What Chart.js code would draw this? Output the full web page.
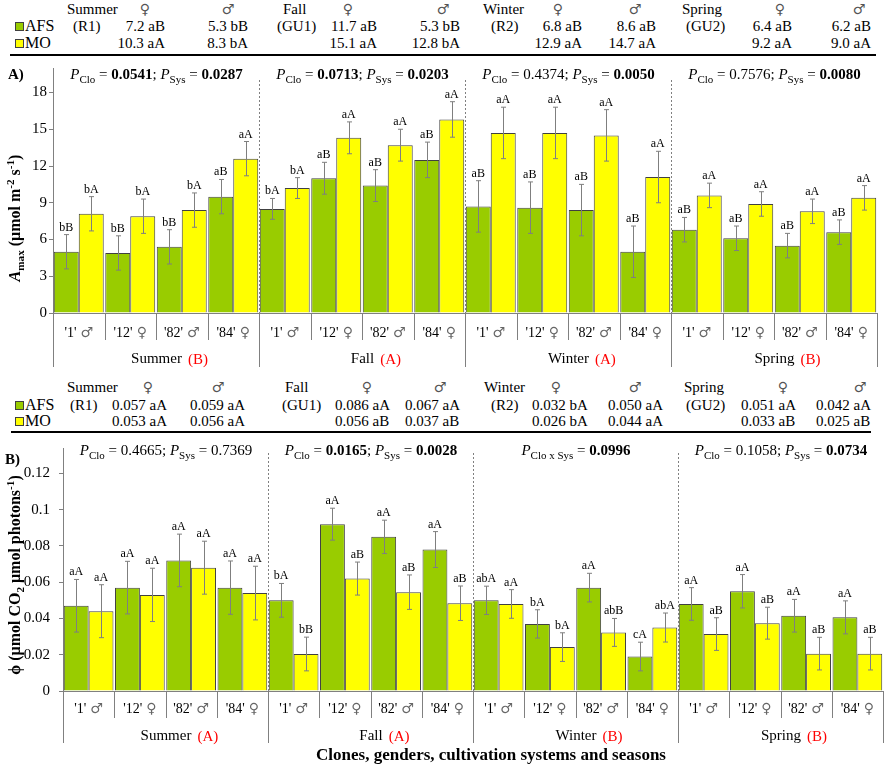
<!DOCTYPE html>
<html>
<head>
<meta charset="utf-8">
<script src="https://cdn.jsdelivr.net/npm/chart.js@4.4.0/dist/chart.umd.min.js"></script>
<style>
  body { margin: 0; background: #fff; }
  #fig { position: relative; width: 886px; height: 766px; font-family: "Liberation Serif", serif; color: #000; overflow: hidden; }
  #fig canvas { position: absolute; left: 0; }
  .cell { position: absolute; font-size: 15px; line-height: 18px; white-space: nowrap; }
  .sym { font-family: "DejaVu Sans", sans-serif; font-size: 14px; color: #555; }
  .sw { position: absolute; width: 7px; height: 7px; border: 1px solid #404040; }
  .rule { position: absolute; height: 2px; background: #000; }
  .ytitle { position: absolute; font-weight: bold; font-size: 16px; white-space: nowrap; transform: translate(-50%, -50%) rotate(-90deg); }
  .ytitle sub, .ytitle sup { font-size: 70%; line-height: 0; }
  .panel { position: absolute; font-weight: bold; font-size: 15px; }
  #xtitle { position: absolute; left: 491px; top: 745px; transform: translateX(-50%); font-weight: bold; font-size: 17px; white-space: nowrap; }
</style>
</head>
<body>
<div id="fig">
  <canvas id="chartA" width="886" height="316" style="top:56px"></canvas>
  <canvas id="chartB" width="886" height="336" style="top:430px"></canvas>
  <div id="tables"></div>
  <div class="ytitle" style="left:15px;top:218px"><i>A</i><sub>max</sub> (μmol m<sup>-2</sup> s<sup>-1</sup>)</div>
  <div class="ytitle" style="left:15px;top:575px">ϕ (μmol CO<sub>2</sub> μmol photons<sup>-1</sup>)</div>
  <div class="panel" style="left:8px;top:66px">A)</div>
  <div class="panel" style="left:5px;top:451px">B)</div>
  <div id="xtitle">Clones, genders, cultivation systems and seasons</div>
</div>
<script>
var seasons = ['Summer', 'Fall', 'Winter', 'Spring'];
var stages = ['(R1)', '(GU1)', '(R2)', '(GU2)'];
var clones = ["'1' ♂", "'12' ♀", "'82' ♂", "'84' ♀"];
var categories = [].concat(clones, clones, clones, clones);

// A) Amax
var amaxAFS = [5.0, 4.9, 5.4, 9.5, 8.5, 11.0, 10.4, 12.5, 8.7, 8.6, 8.4, 5.0, 6.8, 6.1, 5.5, 6.6];
var amaxAFSErr = [1.4, 1.4, 1.4, 1.4, 0.85, 1.3, 1.3, 1.45, 2.1, 2.1, 2.1, 2.1, 1.0, 1.0, 1.0, 1.0];
var amaxMO = [8.1, 7.9, 8.4, 12.6, 10.2, 14.3, 13.7, 15.8, 14.7, 14.7, 14.5, 11.1, 9.6, 8.9, 8.3, 9.4];
var amaxMOErr = [1.4, 1.4, 1.4, 1.4, 0.85, 1.3, 1.3, 1.45, 2.1, 2.1, 2.1, 2.1, 1.0, 1.0, 1.0, 1.0];
var amaxAFSLetters = ['bB', 'bB', 'bB', 'aB', 'bA', 'aB', 'aB', 'aB', 'aB', 'aB', 'aB', 'aB', 'aB', 'aB', 'aB', 'aB'];
var amaxMOLetters = ['bA', 'bA', 'bA', 'aA', 'bA', 'aA', 'aA', 'aA', 'aA', 'aA', 'aA', 'aA', 'aA', 'aA', 'aA', 'aA'];
var amaxSeasonLetters = ['B', 'A', 'A', 'B'];
var amaxPClo = ['0.0541', '0.0713', '0.4374', '0.7576'];
var amaxPSys = ['0.0287', '0.0203', '0.0050', '0.0080'];
var amaxPInter = [null, null, null, null];
var amaxTableAFS = ['7.2 aB', '5.3 bB', '11.7 aB', '5.3 bB', '6.8 aB', '8.6 aB', '6.4 aB', '6.2 aB'];
var amaxTableMO = ['10.3 aA', '8.3 bA', '15.1 aA', '12.8 bA', '12.9 aA', '14.7 aA', '9.2 aA', '9.0 aA'];

// B) phi
var phiAFS = [0.047, 0.057, 0.072, 0.057, 0.050, 0.092, 0.085, 0.078, 0.050, 0.037, 0.057, 0.019, 0.048, 0.055, 0.0415, 0.0406];
var phiAFSErr = [0.0145, 0.0145, 0.0145, 0.0147, 0.0093, 0.0088, 0.0092, 0.0099, 0.0078, 0.0078, 0.0079, 0.0079, 0.009, 0.0092, 0.009, 0.0091];
var phiMO = [0.044, 0.053, 0.068, 0.054, 0.0204, 0.062, 0.0545, 0.0484, 0.048, 0.0242, 0.0323, 0.035, 0.0314, 0.0374, 0.0206, 0.0206];
var phiMOErr = [0.0146, 0.0147, 0.0146, 0.0148, 0.0093, 0.0091, 0.0095, 0.0095, 0.0079, 0.0079, 0.0077, 0.008, 0.009, 0.0088, 0.009, 0.009];
var phiAFSLetters = ['aA', 'aA', 'aA', 'aA', 'bA', 'aA', 'aA', 'aA', 'abA', 'bA', 'aA', 'cA', 'aA', 'aA', 'aA', 'aA'];
var phiMOLetters = ['aA', 'aA', 'aA', 'aA', 'bB', 'aB', 'aB', 'aB', 'aA', 'bA', 'abB', 'abA', 'aB', 'aB', 'aB', 'aB'];
var phiSeasonLetters = ['A', 'A', 'B', 'B'];
var phiPClo = ['0.4665', '0.0165', null, '0.1058'];
var phiPSys = ['0.7369', '0.0028', null, '0.0734'];
var phiPInter = [null, null, '0.0996', null];
var phiTableAFS = ['0.057 aA', '0.059 aA', '0.086 aA', '0.067 aA', '0.032 bA', '0.050 aA', '0.051 aA', '0.042 aA'];
var phiTableMO = ['0.053 aA', '0.056 aA', '0.056 aB', '0.037 aB', '0.026 bA', '0.044 aA', '0.033 aB', '0.025 aB'];

var GREEN = '#99cc00';
var YELLOW = '#ffff00';

var tables = (function () {
  'use strict';

  var root = document.getElementById('tables');

  function put (html, x, y, align, cls) {
    var el = document.createElement('div');
    el.className = 'cell' + (cls ? ' ' + cls : '');
    el.innerHTML = html;
    el.style.top = (y - 9) + 'px';
    if (align === 'right') {
      el.style.right = (886 - x) + 'px';
    } else if (align === 'center') {
      el.style.left = x + 'px';
      el.style.transform = 'translateX(-50%)';
    } else {
      el.style.left = x + 'px';
    }
    root.appendChild(el);
  }

  function swatch (x, y, color) {
    var el = document.createElement('div');
    el.className = 'sw';
    el.style.left = x + 'px';
    el.style.top = (y - 4) + 'px';
    el.style.background = color;
    root.appendChild(el);
  }

  function rule (x1, x2, y) {
    var el = document.createElement('div');
    el.className = 'rule';
    el.style.left = x1 + 'px';
    el.style.width = (x2 - x1) + 'px';
    el.style.top = (y - 1) + 'px';
    root.appendChild(el);
  }

  function build (t, afs, mo) {
    swatch(15, t.rows[1], GREEN);
    swatch(15, t.rows[2], YELLOW);
    put('<span style="font-size:16px">AFS</span>', 25, t.rows[1]);
    put('<span style="font-size:16px">MO</span>', 25, t.rows[2]);
    for (var s = 0; s < 4; s++) {
      put(seasons[s], t.name[s], t.rows[0]);
      put(stages[s], t.stage[s], t.rows[1]);
      put('♀', t.fem[s], t.rows[0], 'center', 'sym');
      put('♂', t.male[s], t.rows[0], 'center', 'sym');
      put(afs[2 * s], t.femVal[s], t.rows[1], t.align);
      put(afs[2 * s + 1], t.maleVal[s], t.rows[1], t.align);
      put(mo[2 * s], t.femVal[s], t.rows[2], t.align);
      put(mo[2 * s + 1], t.maleVal[s], t.rows[2], t.align);
    }
    rule(t.rule[0], t.rule[1], t.rule[2]);
  }

  function init () {
    build({
      rows: [9, 26, 43],
      name: [67, 283, 483, 682],
      stage: [73, 277, 491, 686],
      fem: [145, 348, 558, 780],
      male: [228, 443, 635, 859],
      femVal: [165, 377, 582, 792],
      maleVal: [248, 460, 656, 871],
      align: 'right',
      rule: [10, 876, 55]
    }, amaxTableAFS, amaxTableMO);
    build({
      rows: [387, 405, 421],
      name: [67, 285, 484, 684],
      stage: [70, 282, 491, 686],
      fem: [148, 367, 556, 783],
      male: [218, 440, 635, 860],
      femVal: [112, 335, 532, 741],
      maleVal: [190, 405, 608, 816],
      align: 'left',
      rule: [11, 871, 432]
    }, phiTableAFS, phiTableMO);
  }

  return {
    init: init
  };
}());

var charts = (function () {
  'use strict';

  var SERIF = '"Liberation Serif", serif';
  var SYMFONT = '"DejaVu Sans", sans-serif';

  function fontOf (s, size) {
    var sz = s.sub ? 11 : size;
    return (s.i ? 'italic ' : '') + (s.b ? 'bold ' : '') + sz + 'px ' + SERIF;
  }

  function drawRich (ctx, segs, cx, y, size) {
    var w = 0;
    segs.forEach(function (s) {
      ctx.font = fontOf(s, size);
      s.w = ctx.measureText(s.t).width;
      w += s.w;
    });
    var x = cx - w / 2;
    ctx.textAlign = 'left';
    ctx.textBaseline = 'alphabetic';
    segs.forEach(function (s) {
      ctx.font = fontOf(s, size);
      ctx.fillStyle = s.c || '#000';
      ctx.fillText(s.t, x, y + (s.sub ? 4 : 0));
      x += s.w;
    });
  }

  function pSegs (name, value) {
    return [{ t: 'P', i: 1 }, { t: name, sub: 1 }, { t: ' = ' }, { t: value, b: parseFloat(value) < 0.1 }];
  }

  // clone name in serif, gender sign in a font that has a full-size glyph
  function drawCategory (ctx, label, cx, y) {
    var parts = label.split(' ');
    ctx.font = '14px ' + SERIF;
    var w1 = ctx.measureText(parts[0]).width;
    ctx.font = '14px ' + SYMFONT;
    var w2 = ctx.measureText(parts[1]).width;
    var x = cx - (w1 + 4 + w2) / 2;
    ctx.textAlign = 'left';
    ctx.textBaseline = 'middle';
    ctx.font = '14px ' + SERIF;
    ctx.fillStyle = '#000';
    ctx.fillText(parts[0], x, y);
    ctx.font = '14px ' + SYMFONT;
    ctx.fillStyle = '#666';
    ctx.fillText(parts[1], x + w1 + 4, y);
  }

  var extras = {
    id: 'extras',
    afterDatasetsDraw: function (chart) {
      var ctx = chart.ctx;
      var y = chart.scales.y;
      ctx.save();
      chart.data.datasets.forEach(function (ds, d) {
        chart.getDatasetMeta(d).data.forEach(function (bar, i) {
          var x = Math.round(bar.x) + 0.5;
          var hi = y.getPixelForValue(ds.data[i] + ds.errors[i]);
          var lo = y.getPixelForValue(ds.data[i] - ds.errors[i]);
          ctx.strokeStyle = '#7f7f7f';
          ctx.lineWidth = 1;
          ctx.beginPath();
          ctx.moveTo(x, hi);
          ctx.lineTo(x, lo);
          ctx.moveTo(x - 2.5, hi);
          ctx.lineTo(x + 2.5, hi);
          ctx.moveTo(x - 2.5, lo);
          ctx.lineTo(x + 2.5, lo);
          ctx.stroke();
          ctx.fillStyle = '#000';
          ctx.font = '12px ' + SERIF;
          ctx.textAlign = 'center';
          ctx.textBaseline = 'alphabetic';
          ctx.fillText(ds.letters[i], bar.x, hi - 4);
        });
      });
      ctx.restore();
    },
    afterDraw: function (chart, args, opts) {
      var ctx = chart.ctx;
      var xs = chart.scales.x;
      var area = chart.chartArea;
      var labels = chart.data.labels;
      var n = labels.length;
      var half = (xs.getPixelForValue(1) - xs.getPixelForValue(0)) / 2;
      function edge (i) {
        return Math.round(xs.getPixelForValue(i) - half) + 0.5;
      }
      ctx.save();
      ctx.strokeStyle = '#808080';
      ctx.lineWidth = 1;
      ctx.beginPath();
      for (var i = 0; i <= n; i++) {
        ctx.moveTo(edge(i), area.bottom);
        ctx.lineTo(edge(i), area.bottom + (i % 4 === 0 ? opts.longTick : opts.shortTick));
      }
      ctx.stroke();
      for (var c = 0; c < n; c++) {
        drawCategory(ctx, labels[c], xs.getPixelForValue(c), area.bottom + opts.labelY);
      }
      // dotted season dividers
      ctx.setLineDash([2, 2]);
      ctx.beginPath();
      for (var k = 4; k < n; k += 4) {
        ctx.moveTo(edge(k), area.top + opts.dotTop);
        ctx.lineTo(edge(k), area.bottom);
      }
      ctx.stroke();
      ctx.setLineDash([]);
      for (var s = 0; s < 4; s++) {
        var cx = (edge(4 * s) + edge(4 * s + 4)) / 2;
        ctx.font = '15px ' + SERIF;
        ctx.fillStyle = '#000';
        ctx.textAlign = 'center';
        ctx.textBaseline = 'middle';
        ctx.fillText(seasons[s], cx, area.bottom + opts.seasonY);
        var w = ctx.measureText(seasons[s]).width;
        ctx.fillStyle = '#ff0000';
        ctx.textAlign = 'left';
        ctx.fillText('(' + opts.seasonLetters[s] + ')', cx + w / 2 + 6, area.bottom + opts.seasonY + 1);
        var segs = opts.pInter[s] ? pSegs('Clo x Sys', opts.pInter[s])
          : pSegs('Clo', opts.pClo[s]).concat([{ t: '; ' }], pSegs('Sys', opts.pSys[s]));
        drawRich(ctx, segs, cx, area.top + opts.pY, 15);
      }
      ctx.restore();
    }
  };

  function make (id, cfg) {
    return new Chart(document.getElementById(id), {
      type: 'bar',
      data: {
        labels: categories,
        datasets: [{
          label: 'AFS',
          data: cfg.afs,
          errors: cfg.afsErr,
          letters: cfg.afsLetters,
          backgroundColor: GREEN,
          borderColor: '#404040',
          borderWidth: 1,
          categoryPercentage: 0.97,
          barPercentage: 1
        }, {
          label: 'MO',
          data: cfg.mo,
          errors: cfg.moErr,
          letters: cfg.moLetters,
          backgroundColor: YELLOW,
          borderColor: '#404040',
          borderWidth: 1,
          categoryPercentage: 0.97,
          barPercentage: 1
        }]
      },
      options: {
        responsive: false,
        animation: false,
        layout: { padding: cfg.padding },
        plugins: {
          legend: { display: false },
          tooltip: { enabled: false },
          extras: cfg.extras
        },
        scales: {
          x: {
            grid: { display: false, drawTicks: false },
            border: { color: '#808080' },
            ticks: { display: false },
            afterFit: function (axis) { axis.height = cfg.xHeight; }
          },
          y: {
            min: 0,
            max: cfg.max,
            grid: { drawOnChartArea: false, drawTicks: true, tickLength: 4, color: '#808080' },
            border: { color: '#808080' },
            ticks: {
              stepSize: cfg.step,
              includeBounds: false,
              color: '#000',
              padding: cfg.yPad,
              font: { family: SERIF, size: 15 },
              callback: function (v) { return String(+v.toFixed(2)); }
            },
            afterFit: function (axis) { axis.width = cfg.yWidth; }
          }
        }
      },
      plugins: [extras]
    });
  }

  function init () {
    make('chartA', {
      afs: amaxAFS, afsErr: amaxAFSErr, afsLetters: amaxAFSLetters,
      mo: amaxMO, moErr: amaxMOErr, moLetters: amaxMOLetters,
      max: 20, step: 3,
      padding: { top: 12, right: 9, left: 0, bottom: 0 },
      xHeight: 59, yWidth: 53, yPad: 2,
      extras: {
        longTick: 54, shortTick: 27, labelY: 20, seasonY: 46, dotTop: 12, pY: 11,
        seasonLetters: amaxSeasonLetters, pClo: amaxPClo, pSys: amaxPSys, pInter: amaxPInter
      }
    });
    make('chartB', {
      afs: phiAFS, afsErr: phiAFSErr, afsLetters: phiAFSLetters,
      mo: phiMO, moErr: phiMOErr, moLetters: phiMOLetters,
      max: 0.134, step: 0.02,
      padding: { top: 17, right: 3, left: 0, bottom: 0 },
      xHeight: 75, yWidth: 63, yPad: 9,
      extras: {
        longTick: 52, shortTick: 27, labelY: 18, seasonY: 45, dotTop: 5, pY: 7,
        seasonLetters: phiSeasonLetters, pClo: phiPClo, pSys: phiPSys, pInter: phiPInter
      }
    });
  }

  return {
    init: init
  };
}());

tables.init();
charts.init();
</script>
</body>
</html>
